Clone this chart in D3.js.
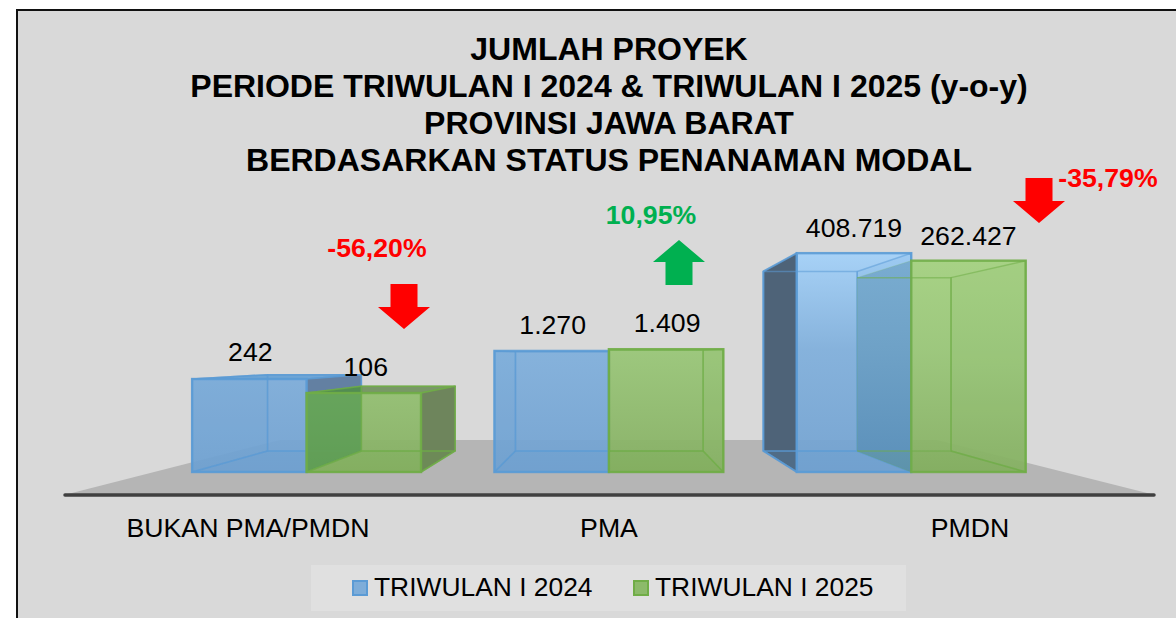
<!DOCTYPE html>
<html><head><meta charset="utf-8">
<script src="https://cdn.jsdelivr.net/npm/d3@7/dist/d3.min.js"></script>
<style>html,body{margin:0;padding:0;background:#fff}svg{display:block;font-family:"Liberation Sans",Arial,sans-serif}</style>
</head><body><div id="c"></div>
<script>
const titleLines = ["JUMLAH PROYEK","PERIODE TRIWULAN I 2024 & TRIWULAN I 2025 (y-o-y)","PROVINSI JAWA BARAT","BERDASARKAN STATUS PENANAMAN MODAL"];
const categories = ["BUKAN PMA/PMDN","PMA","PMDN"];
const seriesNames = ["TRIWULAN I 2024","TRIWULAN I 2025"];
const values2024 = [242,1270,408719];
const values2025 = [106,1409,262427];
const valueLabels2024 = ["242","1.270","408.719"];
const valueLabels2025 = ["106","1.409","262.427"];
const changes = ["-56,20%","10,95%","-35,79%"];

const W=1176,H=618;
const svg=d3.select("#c").append("svg").attr("width",W).attr("height",H);
const defs=svg.append("defs");

// chart frame
svg.append("rect").attr("x",17).attr("y",10).attr("width",W).attr("height",H).attr("fill","#d9d9d9").attr("stroke","#111").attr("stroke-width",2);

// title
svg.append("g").selectAll("text").data(titleLines).join("text")
 .attr("x",609).attr("y",(d,i)=>60+i*37).attr("text-anchor","middle")
 .attr("font-size",32).attr("font-weight","bold").attr("fill","#000").text(d=>d);

// scales
const y=d3.scaleLog().domain([1,1e6]).range([472,238]);
const x0=d3.scaleBand().domain(categories).range([155.4,1062.4]).paddingInner(0.243).paddingOuter(0.1215);
const x1=d3.scaleBand().domain(seriesNames).range([0,x0.bandwidth()]);
const xLabel=d3.scalePoint().domain(categories).range([248,970]);

// perspective of the box depth
const vp=[611,355],depth=0.82;
const back=(px,py)=>[vp[0]+depth*(px-vp[0]),vp[1]+depth*(py-vp[1])];

// floor
svg.append("path").attr("d",d3.line()([[64,495],[280,440],[937,440],[1155,495]])).attr("fill","#b5b5b5");
svg.append("line").attr("x1",65).attr("x2",1154).attr("y1",495).attr("y2",495).attr("stroke","#404040").attr("stroke-width",3.5).attr("stroke-linecap","round");

function grad(id,stops){
 const g=defs.append("linearGradient").attr("id",id).attr("gradientUnits","userSpaceOnUse").attr("x1",0).attr("x2",0).attr("y1",253).attr("y2",472);
 stops.forEach((c,i)=>g.append("stop").attr("offset",[0,.44,1][i]).attr("stop-color",c));
}
grad("fb",["#a3d1f9","#7fafdc","#70a1d1"]);
grad("fg",["#a4d27f","#98c676","#84af60"]);
grad("sb",["#79acd0","#6ea1c6","#5a8fb9"]);

const styles=[
 {front:"url(#fb)",edge:"#5b9bd5",inner:"#5b9bd5"},
 {front:"url(#fg)",edge:"#70ad47",inner:"#3f8f45"}
];

const series=[values2024,values2025];
const barsG=svg.append("g");
seriesNames.forEach((name,si)=>{
 const st=styles[si];
 const data=categories.map((c,i)=>({c,v:series[si][i]}));
 const g=barsG.append("g").selectAll("g").data(data).join("g");
 g.each(function(d){
  const sel=d3.select(this);
  const xl=x0(d.c)+x1(name), xr=xl+x1.bandwidth(), yt=y(d.v), yb=y.range()[0];
  const ftl=[xl,yt],ftr=[xr,yt],fbl=[xl,yb],fbr=[xr,yb];
  const btl=back(...ftl),btr=back(...ftr),bbl=back(...fbl),bbr=back(...fbr);
  const poly=(pts,fill,op,sw,sop)=>sel.append("path").attr("d",d3.line()(pts)+"Z").attr("fill",fill).attr("fill-opacity",op)
    .attr("stroke",st.edge).attr("stroke-width",sw).attr("stroke-opacity",sop).attr("stroke-linejoin","round");
  const leftOuter=btl[0]<ftl[0]-2, rightOuter=btr[0]>ftr[0]+2;
  const topAbove=btl[1]<ftl[1];
  const overlapsBlue=leftOuter && si===1;
  // faces seen from outside, behind the front pane
  if(topAbove) poly([btl,btr,ftr,ftl],si?"#678c52":"#5b9bd5",.85,1.5,.85);
  if(leftOuter && si===0) poly([btl,ftl,fbl,bbl],"#4e6378",1,2,.9);
  if(overlapsBlue) poly([btl,ftl,fbl,bbl],"url(#sb)",.97,1,.2);
  if(rightOuter) poly([btr,ftr,fbr,bbr],si?"#6a8258":"#5f7da0",.97,1.5,.85);
  // front pane
  sel.append("rect").attr("x",xl).attr("y",yt).attr("width",xr-xl).attr("height",yb-yt)
    .attr("fill",st.front).attr("fill-opacity",.92);
  // faces seen through the front pane
  if(!leftOuter) poly([btl,ftl,fbl,bbl],st.inner,(btl[0]-ftl[0]>40&&si===1)?.5:.07,1.5,.55);
  if(!rightOuter) poly([btr,ftr,fbr,bbr],si?"#8cba6a":"#5b9bd5",.12,1.5,.55);
  if(overlapsBlue){
   poly([bbl,bbr,fbr,fbl],st.edge,.12,1,0);
   sel.append("path").attr("d",d3.line()([btl,btr,bbr,bbl])).attr("fill","none").attr("stroke",st.edge).attr("stroke-width",1.5).attr("stroke-opacity",.55);
   sel.append("path").attr("d",d3.line()([bbr,fbr])).attr("fill","none").attr("stroke",st.edge).attr("stroke-width",1.5).attr("stroke-opacity",.55);
  } else {
   poly([bbl,bbr,fbr,fbl],st.edge,.16,1.5,.55);
   poly([btl,btr,bbr,bbl],"none",0,1.5,.55);
  }
  // front edge
  sel.append("rect").attr("x",xl).attr("y",yt).attr("width",xr-xl).attr("height",yb-yt)
    .attr("fill","none").attr("stroke",st.edge).attr("stroke-width",2.4).attr("stroke-opacity",.9);
 });
});

// value labels (manual placement of the source chart)
const labelDX=[[1,2],[1,1],[0,0]];
const labelDY=[[-18,-17],[-17,-17],[-16,-16]];
[valueLabels2024,valueLabels2025].forEach((labs,si)=>{
 svg.append("g").selectAll("text").data(labs).join("text")
  .attr("x",(d,i)=>x0(categories[i])+x1(seriesNames[si])+x1.bandwidth()/2+labelDX[i][si])
  .attr("y",(d,i)=>y(series[si][i])+labelDY[i][si])
  .attr("text-anchor","middle").attr("font-size",26.67).attr("fill","#000").text(d=>d);
});

// categories
svg.append("g").selectAll("text").data(categories).join("text")
 .attr("x",d=>xLabel(d)).attr("y",537).attr("text-anchor","middle").attr("font-size",26.67).attr("fill","#000").text(d=>d);

// change arrows + labels
const arrowTop=[[404,284,1],[679,240,-1],[1039,178,1]];
const arrowColor=["#ff0000","#00b050","#ff0000"];
const downArrow=[[-13.5,0],[13.5,0],[13.5,23],[26,23],[0,45],[-26,23],[-13.5,23]];
const upArrow=[[0,0],[26,22],[13.5,22],[13.5,45],[-13.5,45],[-13.5,22],[-26,22]];
svg.append("g").selectAll("path").data(arrowTop).join("path")
 .attr("d",d=>d3.line()((d[2]>0?downArrow:upArrow).map(p=>[d[0]+p[0],d[1]+p[1]]))+"Z")
 .attr("fill",(d,i)=>arrowColor[i]);
const changePos=[[377,257],[651,224],[1108,187]];
svg.append("g").selectAll("text").data(changes).join("text")
 .attr("x",(d,i)=>changePos[i][0]).attr("y",(d,i)=>changePos[i][1]).attr("text-anchor","middle")
 .attr("font-size",26.67).attr("font-weight","bold").attr("fill",(d,i)=>arrowColor[i]).text(d=>d);

// legend
svg.append("rect").attr("x",311).attr("y",565).attr("width",595).attr("height",46).attr("fill","#e0e0e0");
const legX=d3.scaleOrdinal().domain(seriesNames).range([353,634]);
const lg=svg.append("g").selectAll("g").data(seriesNames).join("g");
lg.append("rect").attr("x",d=>legX(d)).attr("y",581).attr("width",14).attr("height",14)
 .attr("fill",(d,i)=>i?"#8cba6a":"#7eadd9").attr("stroke",(d,i)=>styles[i].edge).attr("stroke-width",2);
lg.append("text").attr("x",d=>legX(d)+21).attr("y",596).attr("font-size",26.4).attr("fill","#000").text(d=>d);
</script></body></html>
